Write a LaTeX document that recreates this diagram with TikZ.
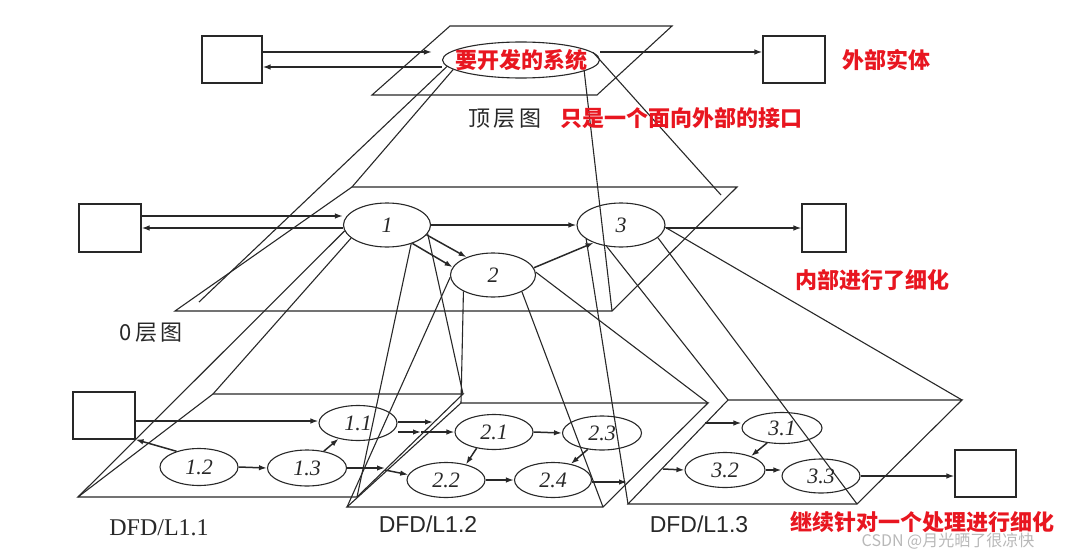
\documentclass[tikz,border=0pt]{standalone}
\usepackage{fontspec}
\setmainfont{Liberation Serif}
\setsansfont{Liberation Sans}
\newfontfamily\cjk{Noto Sans CJK SC}
\usetikzlibrary{shapes.geometric,arrows.meta}
\definecolor{notered}{RGB}{232,22,32}
\definecolor{ink}{RGB}{40,40,40}

\begin{document}
\begin{tikzpicture}[x=1pt,y=-1pt,color=ink,line width=1.1pt,
  proc/.style={ellipse,draw,inner sep=0pt,font=\fontsize{22}{24}\selectfont\itshape},
  ext/.style={draw,inner sep=0pt,minimum width=61pt,minimum height=47pt},
  flow/.style={-{Latex[length=8pt,width=5.5pt]},line width=1.5pt},
  proj/.style={line width=1.1pt},
  note/.style={text=notered,font=\cjk\bfseries\fontsize{22}{24}\selectfont},
  lvl/.style={text=ink,font=\cjk\fontsize{22}{24}\selectfont}]
\useasboundingbox (0,0) rectangle (1070,559);

% corners of the four planes
\coordinate (pt-tl) at (450,26);  \coordinate (pt-tr) at (672,26);
\coordinate (pt-br) at (597,95);  \coordinate (pt-bl) at (372,95);
\coordinate (p0-tl) at (352,187); \coordinate (p0-tr) at (737,187);
\coordinate (p0-br) at (612,311); \coordinate (p0-bl) at (175,311);
\coordinate (p1-tl) at (213,394); \coordinate (p1-tr) at (463,394);
\coordinate (p1-br) at (357,497); \coordinate (p1-bl) at (78,497);
\coordinate (p2-tl) at (461,403); \coordinate (p2-tr) at (708,403);
\coordinate (p2-br) at (603,507); \coordinate (p2-bl) at (347,507);
\coordinate (p3-tl) at (728,400); \coordinate (p3-tr) at (962,400);
\coordinate (p3-br) at (857,504); \coordinate (p3-bl) at (628,504);
\foreach \p in {pt,p0,p1,p2,p3}
  \draw (\p-tl) -- (\p-tr) -- (\p-br) -- (\p-bl) -- cycle;
\coordinate (q0-bl) at (199,302);
\coordinate (q0-tr) at (721,195);

% top level
\node[ext,minimum width=60pt] (tlb) at (232,59.5) {};
\node[ext,minimum width=62pt] (trb) at (794,59.5) {};
\node[proc,minimum width=157pt,minimum height=36pt,
  label={[note]center:要开发的系统}] (sys) at (521,60) {};

% level 0
\node[ext,minimum width=62pt,minimum height=48pt] (mlb) at (110,228) {};
\node[ext,minimum width=44pt,minimum height=48pt] (mrb) at (824,228) {};
\node[proc,minimum width=87pt,minimum height=44pt] (e1) at (387,225) {1};
\node[proc,minimum width=85pt,minimum height=44pt] (e2) at (493,275) {2};
\node[proc,minimum width=88pt,minimum height=44pt] (e3) at (621,225) {3};

% level 1
\node[ext,minimum width=62pt] (blb) at (104,415.5) {};
\node[ext] (brb) at (985.5,473.5) {};
\node[proc,minimum width=78pt,minimum height=35pt] (e11) at (358,423) {1.1};
\node[proc,minimum width=78pt,minimum height=37pt] (e12) at (199,467) {1.2};
\node[proc,minimum width=79pt,minimum height=36pt] (e13) at (307,468) {1.3};
\node[proc,minimum width=78pt,minimum height=35pt] (e21) at (494,432) {2.1};
\node[proc,minimum width=78pt,minimum height=35pt] (e22) at (446,480) {2.2};
\node[proc,minimum width=79pt,minimum height=34pt] (e23) at (602,433) {2.3};
\node[proc,minimum width=77pt,minimum height=35pt] (e24) at (553,480) {2.4};
\node[proc,minimum width=80pt,minimum height=31pt] (e31) at (782,428) {3.1};
\node[proc,minimum width=80pt,minimum height=35pt] (e32) at (725,470) {3.2};
\node[proc,minimum width=78pt,minimum height=34pt] (e33) at (821,476) {3.3};
\coordinate (k0) at (433,422);
\coordinate (k1) at (421,432);
\coordinate (k2) at (385,468);
\coordinate (k3) at (627,482);
\coordinate (k4) at (663,469);
\coordinate (k5) at (705,423);

% projections
\path[proj]
(sys.188) edge (p0-tl)
(sys.185) edge (q0-bl)
(sys.-10) edge (p0-br)
(sys.6) edge (q0-tr)
(e1.188) edge (p1-bl)
(e1.200) edge (p1-tl)
(e1.-12) edge (p1-tr)
(e1.-38) edge (p1-br)
(e2.183) edge (p2-bl)
(e2.209) edge (p2-tl)
(e2.-30) edge (p2-br)
(e2.4) edge (p2-tr)
(e3.202) edge (p3-bl)
(e3.236) edge (p3-tl)
(e3.-19) edge (p3-br)
(e3.-3) edge (p3-tr);

% data flows
\path[flow]
([yshift=7.5pt]tlb.east) edge[shorten >=10pt] ([yshift=7.5pt]tlb.east -| sys.west)
([yshift=-7.5pt]tlb.east -| sys.west) edge ([yshift=-7.5pt]tlb.east)
([yshift=7.5pt]trb.west -| sys.east) edge ([yshift=7.5pt]trb.west)
([yshift=12pt]mlb.east) edge ([yshift=12pt]mlb.east -| e1.west)
(mlb.east -| e1.west) edge (mlb.east)
(e1.east) edge (e3.west)
(e1.-14) edge (e2.146)
(e1.-36) edge (e2.169)
(e2.10) edge (e3.-147)
(mrb.west -| e3.east) edge (mrb.west)
([yshift=-5.5pt]blb.east) edge ([yshift=-5.5pt]blb.east -| e11.west)
(e12.145) edge (blb.south east)
(e12.east) edge (e13.west)
(e13.45) edge (e11.-141)
(k0 -| e11.east) edge (k0)
(k1 -| e11.east) edge (k1)
(k1) edge (e21.west)
(k2 -| e13.east) edge (k2)
([yshift=-2pt]k2) edge (e22.172)
(e21.east) edge (e23.west)
(e21.-137) edge (e22.38)
(e22.east) edge (e24.west)
(e23.-131) edge (e24.42)
(k3 -| e24.east) edge (k3)
(k4) edge (e32.west)
(k5) edge (k5 -| e31.west)
(e31.-135) edge (e32.28)
(e32.east) edge (e32.east -| e33.west)
(e33.east) edge (e33.east -| brb.west);

% labels
\node[note] (n-ext) at (886,60) {外部实体};
\node[lvl] (n-top) at (505,119) {顶\,层\,图};
\node[note] (n-if) at (681,118) {只是一个面向外部的接口};
\node[lvl] (n-l0) at (151,333) {0\,层\,图};
\node[note] (n-in) at (872,280) {内部进行了细化};
\node[font=\fontsize{24}{26}\selectfont] (n-l11) at (159,528) {DFD/L1.1};
\node[font=\sffamily\fontsize{23}{26}\selectfont] (n-l12) at (428,524) {DFD/L1.2};
\node[font=\sffamily\fontsize{23}{26}\selectfont] (n-l13) at (699,524) {DFD/L1.3};
\node[note] (n-more) at (922,522) {继续针对一个处理进行细化};
\node[text=black!28,font=\cjk\fontsize{16}{18}\selectfont] (n-mark) at (948,541) {CSDN @月光晒了很凉快};
\end{tikzpicture}
\end{document}
